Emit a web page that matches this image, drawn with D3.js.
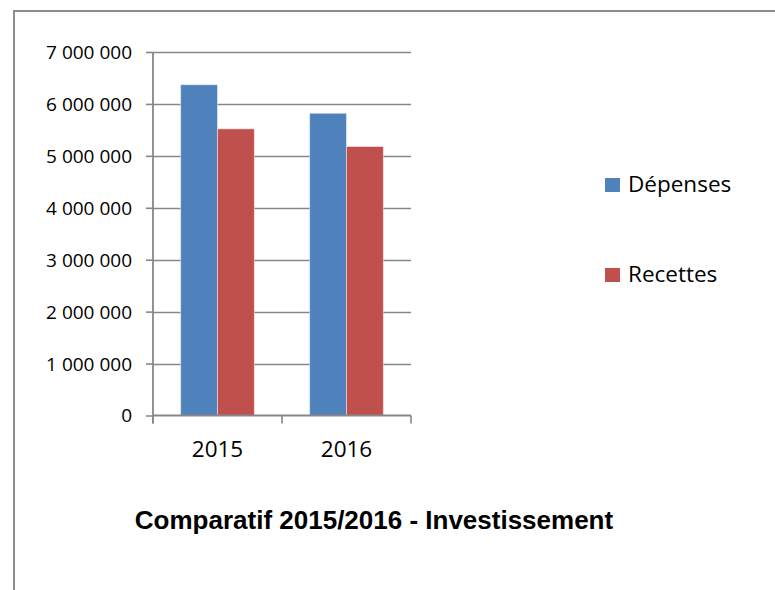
<!DOCTYPE html>
<html>
<head>
<meta charset="utf-8">
<script src="https://cdn.jsdelivr.net/npm/d3@7"></script>
<style>
  body { margin: 0; background: #fff; }
  svg text { font-family: "Open Sans", sans-serif; fill: #000; }
</style>
</head>
<body>
<div class="chart"></div>
<script>
// data
let years = ["2015", "2016"];
let seriesNames = ["Dépenses", "Recettes"];
let depenses = [6370000, 5820000];
let recettes = [5520000, 5180000];
let yTicks = [0, 1000000, 2000000, 3000000, 4000000, 5000000, 6000000, 7000000];
let colors = ["#4F81BD", "#C0504D"];
let title = "Comparatif 2015/2016 - Investissement";

let width = 775, height = 590;

let svg = d3.select('.chart')
    .append('svg')
    .attr('width', width)
    .attr('height', height);

// frame of the chart area (top and left edges only are visible)
svg.append('line')
    .attr('x1', 14).attr('x2', width)
    .attr('y1', 11).attr('y2', 11)
    .style('stroke', '#8c8c8c').style('stroke-width', 2);
svg.append('line')
    .attr('x1', 14).attr('x2', 14)
    .attr('y1', 10).attr('y2', height)
    .style('stroke', '#8c8c8c').style('stroke-width', 2);

// plot area
let plot = { left: 153, right: 411, top: 52, bottom: 415.5 };

let y = d3.scaleLinear().domain([0, 7000000]).range([plot.bottom, plot.top]);
let x = d3.scaleBand().domain(years).range([plot.left, plot.right]).padding(0);
// Excel gap width 150% -> bar = band / 3.5
let barW = x.bandwidth() / 3.5;
let xs = d3.scaleBand().domain(seriesNames)
    .range([0, barW * 2]);

let fr = d3.formatLocale({ decimal: ",", thousands: " ", grouping: [3], currency: ["", " €"] });
let fmt = fr.format(",d");

// gridlines
svg.append('g').selectAll('line')
    .data(yTicks.filter(d => d > 0))
    .enter().append('line')
    .attr('x1', plot.left).attr('x2', plot.right)
    .attr('y1', d => Math.round(y(d)) + 0.5).attr('y2', d => Math.round(y(d)) + 0.5)
    .style('stroke', '#878787').style('stroke-width', 1.6);

// bars
let data = [];
years.forEach((yr, i) => {
    data.push({ year: yr, name: seriesNames[0], value: depenses[i], color: colors[0] });
    data.push({ year: yr, name: seriesNames[1], value: recettes[i], color: colors[1] });
});
svg.append('g').selectAll('rect')
    .data(data)
    .enter().append('rect')
    .attr('x', d => x(d.year) + (x.bandwidth() - barW * 2) / 2 + xs(d.name))
    .attr('y', d => y(d.value))
    .attr('width', xs.bandwidth())
    .attr('height', d => plot.bottom - y(d.value))
    .style('fill', d => d.color)
    .style('stroke', 'rgba(255,255,255,0.45)')
    .style('stroke-width', 1);

// y axis
let yAxis = d3.axisLeft(y).tickValues(yTicks).tickSize(7).tickPadding(14).tickFormat(fmt);
let gy = svg.append('g')
    .attr('transform', 'translate(' + plot.left + ',0)')
    .call(yAxis);
gy.select('.domain').remove();
gy.selectAll('.tick line').style('stroke', '#878787').style('stroke-width', 1.6);
gy.selectAll('.tick text')
    .style('font-family', '"Open Sans", sans-serif')
    .style('font-size', '19px')
    .attr('dy', '0.34em');
svg.append('line')
    .attr('x1', plot.left).attr('x2', plot.left)
    .attr('y1', plot.top).attr('y2', plot.bottom + 8)
    .style('stroke', '#878787').style('stroke-width', 1.8);

// x axis
let gx = svg.append('g')
    .attr('transform', 'translate(0,' + plot.bottom + ')')
    .call(d3.axisBottom(x).tickSize(0).tickPadding(26));
gx.select('.domain')
    .attr('d', 'M' + plot.left + ',0H' + plot.right)
    .style('stroke', '#878787').style('stroke-width', 1.8);
gx.selectAll('.tick text')
    .style('font-family', '"Open Sans", sans-serif')
    .style('font-size', '22.5px');
// category separator ticks
let sepX = years.map(d => x(d)).concat([x(years[years.length - 1]) + x.bandwidth()]);
svg.append('g').selectAll('line')
    .data(sepX)
    .enter().append('line')
    .attr('x1', d => d).attr('x2', d => d)
    .attr('y1', plot.bottom).attr('y2', plot.bottom + 8)
    .style('stroke', '#878787').style('stroke-width', 1.6);

// legend
let legend = svg.append('g').selectAll('g')
    .data(seriesNames)
    .enter().append('g')
    .attr('transform', (d, i) => 'translate(605,' + (178 + i * 90) + ')');
legend.append('rect')
    .attr('width', 15).attr('height', 14)
    .style('fill', (d, i) => colors[i]);
legend.append('text')
    .attr('x', 23).attr('y', 14)
    .style('font-size', '22.5px')
    .text(d => d);

// title
svg.append('text')
    .attr('x', 374).attr('y', 529)
    .attr('text-anchor', 'middle')
    .style('font-family', '"Liberation Sans", Arial, sans-serif')
    .style('font-weight', 'bold')
    .style('font-size', '26px')
    .text(title);
</script>
</body>
</html>
